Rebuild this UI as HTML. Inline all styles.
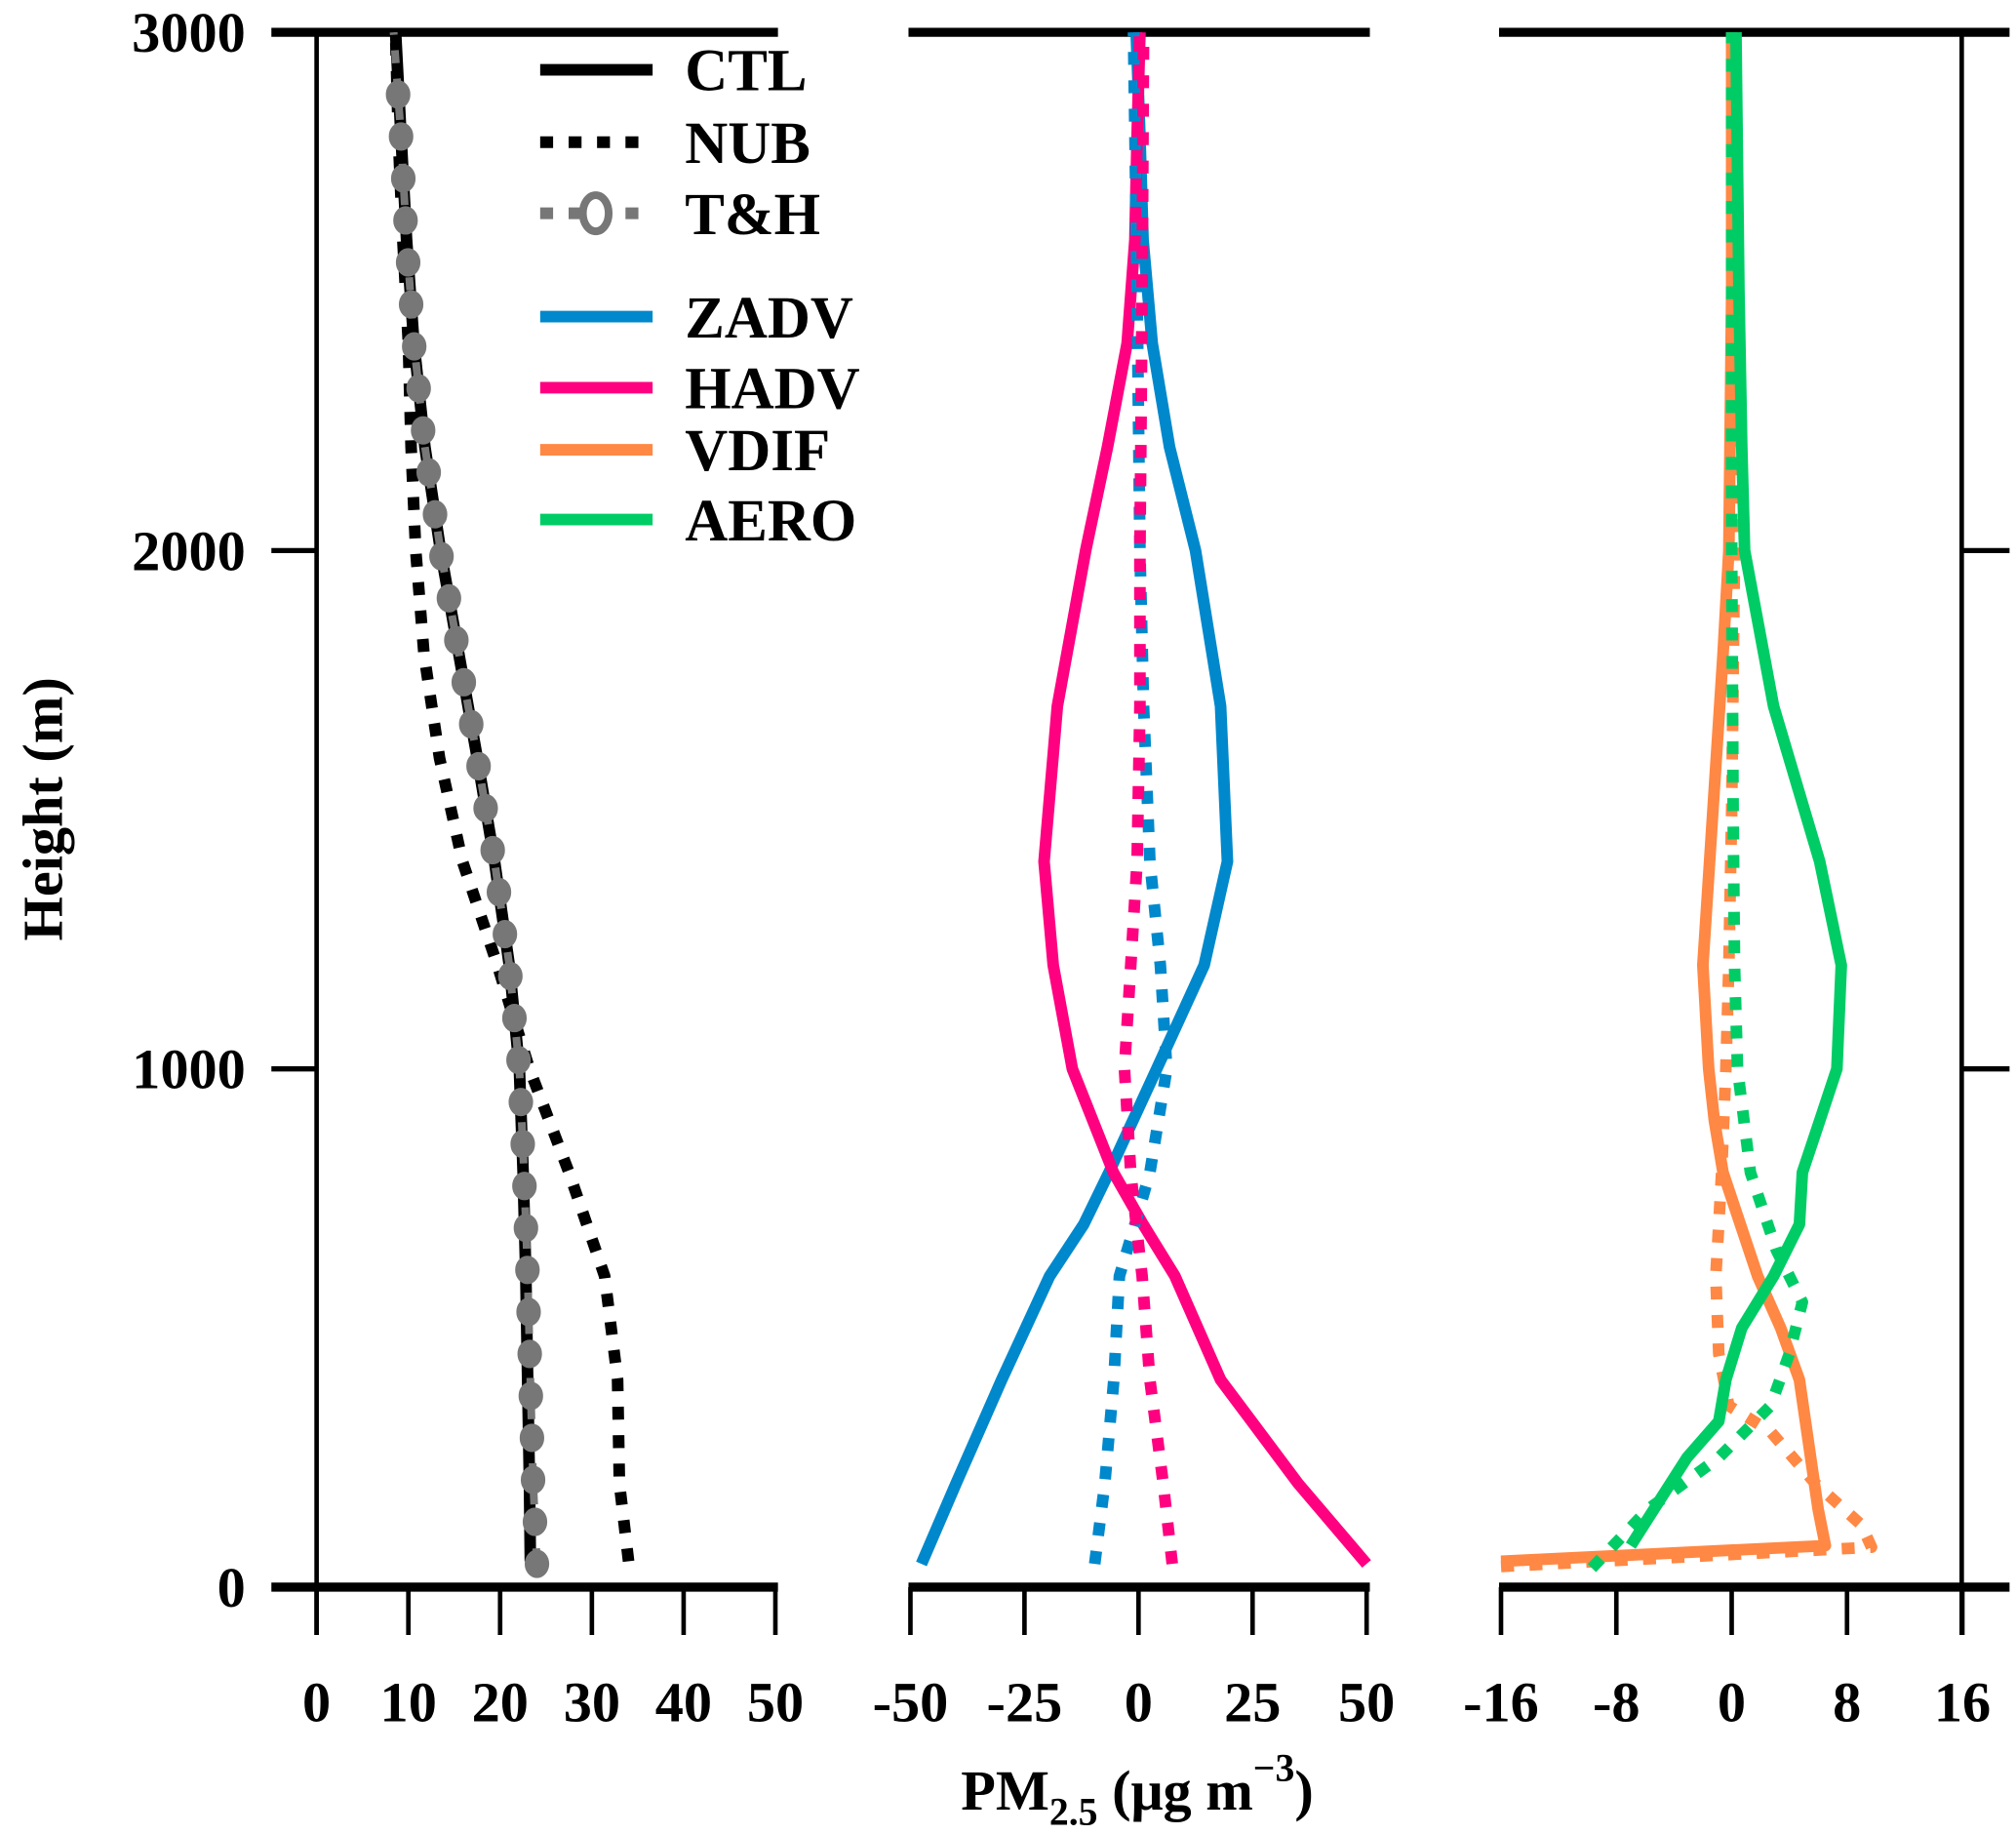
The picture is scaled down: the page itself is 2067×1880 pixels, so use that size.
<!DOCTYPE html>
<html><head><meta charset="utf-8"><style>
html,body{margin:0;padding:0;background:#fff;}
svg{display:block;}
text{font-family:"Liberation Serif",serif;font-weight:bold;fill:#000;}
</style></head><body>
<svg id="chart" width="2067" height="1880" viewBox="0 0 1560 1419" preserveAspectRatio="none" xmlns="http://www.w3.org/2000/svg">
<g id="axes"></g><g id="series"></g><g id="legend"></g>
</svg>
<script>
// ---- data ----
const heightsP1 = [50,200,400,600,800,1000,1200,1400,1600,1800,2000,2200,2400,2600,2800,3000];
const ctlValues = [23.3,23.2,23.0,22.8,22.5,22.1,21.0,19.4,17.5,15.5,13.5,11.8,10.6,9.8,9.2,8.6];
const thValues  = [24.0,23.6,23.3,23.0,22.6,22.1,21.0,19.4,17.5,15.5,13.5,11.8,10.6,9.8,9.2,8.4];
const nubValues = [34,33,32.8,31.4,27.5,23.2,19.7,15.9,13.4,11.7,10.8,10.3,10.0,9.4,8.9,8.6];

const heightsZadv = [45,200,400,600,700,800,1000,1200,1400,1700,2000,2200,2400,2600,2800,3000];
const zadvCtl = [-47.6,-40,-30,-19.5,-12,-6.5,4,14.4,19.5,18,12.5,6.8,3,1,0.3,-0.5];
const hadvCtl = [50,35,18,8,1,-5.5,-14.5,-18.7,-20.7,-17.8,-11.6,-6.8,-2.5,-0.8,-0.3,0.3];
const heightsDot2 = [45,200,400,600,700,800,1000,1200,1400,1700,2000,2500,3000];
const zadvNub = [-9.6,-7.4,-5.4,-4.2,-0.8,2.5,6.2,4.8,2.5,1.1,0.3,-0.3,-1.1];
const hadvNub = [7.4,5.4,2.5,0.8,-0.5,-1.7,-3.1,-1.7,-0.3,0.3,0.3,0.8,1.1];

const heightsVdif = [50,80,150,400,500,600,700,800,900,1000,1200,1500,1800,2000,2500,3000];
const vdifCtl = [-16,6.5,6,4.7,3.4,1.8,0.6,-0.6,-1.2,-1.6,-2,-1.3,-0.6,-0.2,0,0];
const heightsVdifNub = [40,77,120,200,300,350,450,600,700,800,1000,1200,1500,2000,3000];
const vdifNub = [-16,9.7,9,5.8,2.7,-0.2,-0.9,-1.1,-0.9,-0.7,-0.4,-0.2,0,0.2,0];
const heightsAero = [80,150,250,320,400,500,600,700,800,900,1000,1200,1400,1700,2000,2200,2500,3000];
const aeroCtl = [-7,-5.4,-3.1,-0.9,-0.4,0.7,2.9,4.7,4.9,6.1,7.3,7.6,6.1,2.9,0.9,0.7,0.5,0.3];
const heightsAeroNub = [37,150,250,350,450,550,650,800,1000,1200,1500,2000,3000];
const aeroNub = [-9.7,-5.8,-0.9,2.7,4,4.9,3.1,1.3,0.4,0.2,0.1,0,0];

const ticksP1 = [0,10,20,30,40,50];
const ticksP2 = [-50,-25,0,25,50];
const ticksP3 = [-16,-8,0,8,16];
const ticksY = [0,1000,2000,3000];

// ---- scales ----
const NS="http://www.w3.org/2000/svg";
const y = h => 1228 - h*(1203/3000);
const x1 = v => 245 + (v-0)*(355/50);
const x2 = v => 881 + v*(353/100);
const x3 = v => 1340 + v*(357/32);
const C={blue:"#0088cc",pink:"#ff0080",orange:"#ff8844",green:"#00cc66",gray:"#777777"};
const axes=document.getElementById('axes'), series=document.getElementById('series'), legend=document.getElementById('legend');
function el(tag,attrs,parent){const e=document.createElementNS(NS,tag);for(const k in attrs)e.setAttribute(k,attrs[k]);parent.appendChild(e);return e;}
function line(x1_,y1_,x2_,y2_,w,parent){return el('line',{x1:x1_,y1:y1_,x2:x2_,y2:y2_,stroke:'#000','stroke-width':w},parent);}
function txt(s,xx,yy,anchor,size,parent){const t=el('text',{x:xx,y:yy,'text-anchor':anchor,'font-size':size},parent);t.textContent=s;return t;}

// axes frames
[[210,602],[703,1060],[1160,1555]].forEach((r,i)=>{
  const a=line(r[0],1228,r[1],1228,7,axes);
  
  
  const b=line(r[0],25,r[1],25,7,axes);
  
  
});
const lsp=line(245,25,245,1265,3.5,axes);


const rsp=line(1518,25,1518,1265,3.5,axes);


ticksY.forEach(t=>{
  if(t>0&&t<3000){line(210,y(t),245,y(t),4,axes);line(1518,y(t),1555,y(t),4,axes);}
  const lb=txt(String(t),190,y(t)+15,'end',44,axes);
  
  
});
[[ticksP1,x1],[ticksP2,x2],[ticksP3,x3]].forEach(([ts,f])=>{
  ts.forEach(t=>{
    line(f(t),1228,f(t),1265,3.5,axes);
    const lb=txt(String(t),f(t),1332,'middle',44,axes);
    
    
  });
});
const yt=txt('Height (m)',0,0,'middle',44,axes);
yt.setAttribute('transform','translate(48,626) rotate(-90)');


const xt=el('text',{x:880,y:1400,'text-anchor':'middle','font-size':44},axes);
xt.innerHTML='PM<tspan font-size="30" dy="12">2.5</tspan><tspan dy="-12"> (μg m</tspan><tspan font-size="30" dy="-22">−3</tspan><tspan dy="22">)</tspan>';



function path(hs,vs,fx,color,dash,w,name){
  const d=hs.map((h,i)=>(i?'L':'M')+fx(vs[i]).toFixed(1)+','+y(h).toFixed(1)).join(' ');
  const p=el('path',{d:d,fill:'none',stroke:color,'stroke-width':w,'stroke-linejoin':'round'},series);
  if(dash)p.setAttribute('stroke-dasharray',dash);
  
  
  return p;
}
path(heightsP1,nubValues,x1,'#000','10,12',9,'nub-line');
path(heightsP1,ctlValues,x1,'#000',null,9,'ctl-line');
path(heightsP1,thValues,x1,C.gray,'10,12',6,'th-line');
// T&H markers every ~82 m interpolated from the series
function interp(hs,vs,h){for(let i=1;i<hs.length;i++){if(h<=hs[i]){const t=(h-hs[i-1])/(hs[i]-hs[i-1]);return vs[i-1]+t*(vs[i]-vs[i-1]);}}return vs[vs.length-1];}
for(let h=45;h<=2960;h+=81){
  const c=el('ellipse',{cx:x1(interp(heightsP1,thValues,h)),cy:y(h),rx:8.5,ry:10,fill:C.gray,stroke:C.gray,'stroke-width':2},series);
  
  
}
path(heightsZadv,zadvCtl,x2,C.blue,null,9,'zadv-ctl-line');
path(heightsZadv,hadvCtl,x2,C.pink,null,9,'hadv-ctl-line');
path(heightsDot2,zadvNub,x2,C.blue,'10,12',9,'zadv-nub-line');
path(heightsDot2,hadvNub,x2,C.pink,'10,12',9,'hadv-nub-line');
path(heightsVdifNub,vdifNub,x3,C.orange,'10,12',9,'vdif-nub-line');
path(heightsVdif,vdifCtl,x3,C.orange,null,9,'vdif-ctl-line');
path(heightsAeroNub,aeroNub,x3,C.green,'10,12',9,'aero-nub-line');
path(heightsAero,aeroCtl,x3,C.green,null,9,'aero-ctl-line');

// legend
const items=[['CTL','#000',null,54],['NUB','#000','10,12',110],['T&H',C.gray,'10,12',165],['ZADV',C.blue,null,245],['HADV',C.pink,null,300],['VDIF',C.orange,null,348],['AERO',C.green,null,402]];
items.forEach(([lab,col,dash,yy])=>{
  const g=el('g',{},legend);
  
  
  const l=el('line',{x1:418,y1:yy,x2:505,y2:yy,stroke:col,'stroke-width':9},g);
  if(dash)l.setAttribute('stroke-dasharray',dash);
  if(lab==='T&H')el('ellipse',{cx:461,cy:yy,rx:10,ry:14,fill:'#fff',stroke:col,'stroke-width':6},g);
  txt(lab,530,yy+16,'start',46,g);
});
</script>
</body></html>
